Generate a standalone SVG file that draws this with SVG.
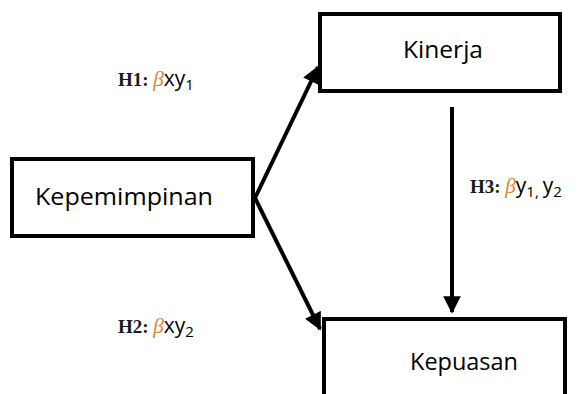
<svg xmlns="http://www.w3.org/2000/svg" width="584" height="394" viewBox="0 0 584 394">
<defs>
<style>
.box{fill:#fff;stroke:#000;stroke-width:4}
.lbl{font-family:"Open Sans","Liberation Sans",sans-serif;font-size:24px;fill:#000}
.h{font-family:"Liberation Serif","DejaVu Serif",serif;font-weight:bold;font-size:19px;fill:#1a1a1a}
.b{font-family:"Liberation Serif","DejaVu Serif",serif;font-style:italic;font-size:21px;fill:#d9862e}
.v{font-family:"Open Sans","Liberation Sans",sans-serif;font-size:21px;fill:#000}
.s{font-size:15px}
.conn{stroke:#000;stroke-width:4;fill:none}
</style>
<marker id="ah" viewBox="0 0 10 10" refX="9" refY="5" markerWidth="4.6" markerHeight="4.4" orient="auto" markerUnits="strokeWidth">
<path d="M0,0 L10,5 L0,10 z" fill="#000"/>
</marker>
</defs>
<rect width="584" height="394" fill="#fff"/>
<g id="connectors">
<line class="conn" x1="255" y1="198" x2="318" y2="67" marker-end="url(#ah)"/>
<line class="conn" x1="255" y1="198" x2="320" y2="329" marker-end="url(#ah)"/>
<line class="conn" x1="452" y1="107" x2="452" y2="312" marker-end="url(#ah)"/>
</g>
<g id="kepemimpinan">
<rect class="box" x="12" y="159" width="241" height="77"/>
<text class="lbl" x="35" y="205" textLength="178" lengthAdjust="spacingAndGlyphs">Kepemimpinan</text>
</g>
<g id="kinerja">
<rect class="box" x="320" y="14" width="240" height="77"/>
<text class="lbl" x="403" y="58" textLength="80" lengthAdjust="spacingAndGlyphs">Kinerja</text>
</g>
<g id="kepuasan">
<rect class="box" x="324" y="319" width="241" height="90"/>
<text class="lbl" x="410" y="370" textLength="108" lengthAdjust="spacingAndGlyphs">Kepuasan</text>
</g>
<g id="label-h1">
<text x="118" y="86"><tspan class="h">H1: </tspan><tspan class="b">β</tspan><tspan class="v">xy</tspan><tspan class="v s" dy="4">1</tspan></text>
</g>
<g id="label-h2">
<text x="118" y="333"><tspan class="h">H2: </tspan><tspan class="b">β</tspan><tspan class="v">xy</tspan><tspan class="v s" dy="4">2</tspan></text>
</g>
<g id="label-h3">
<text x="470" y="193"><tspan class="h">H3: </tspan><tspan class="b">β</tspan><tspan class="v">y</tspan><tspan class="v s" dy="4">1,  </tspan><tspan class="v" dy="-4">y</tspan><tspan class="v s" dy="4">2</tspan></text>
</g>
</svg>
